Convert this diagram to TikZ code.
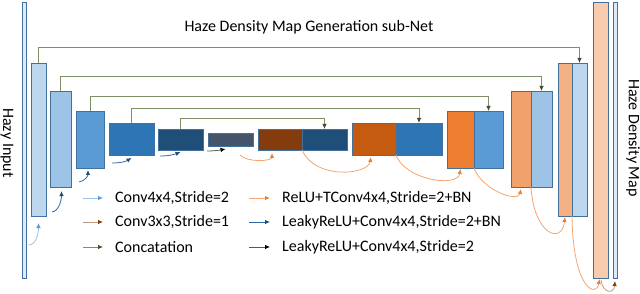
\documentclass[tikz,border=0pt]{standalone}
\usepackage{fontspec}
\setmainfont{Carlito}
\usepackage{tikz}
\usepackage{xcolor}
\usetikzlibrary{arrows.meta,calc,positioning}
\newcommand{\netfont}{\fontsize{16}{19}\selectfont}
\definecolor{NetBlueA}{HTML}{DEEBF7}
\definecolor{NetBlueB}{HTML}{BDD7EE}
\definecolor{NetBlueC}{HTML}{9DC3E6}
\definecolor{NetBlueD}{HTML}{5B9BD5}
\definecolor{NetBlueE}{HTML}{2E75B6}
\definecolor{NetBlueF}{HTML}{1F4E79}
\definecolor{NetSlate}{HTML}{44546A}
\definecolor{NetBrown}{HTML}{843C0C}
\definecolor{NetOrangeA}{HTML}{C55A11}
\definecolor{NetOrangeB}{HTML}{ED7D31}
\definecolor{NetOrangeC}{HTML}{F1A16C}
\definecolor{NetOrangeD}{HTML}{F4B183}
\definecolor{NetOrangeE}{HTML}{F8CBAD}
\definecolor{NetEdge}{HTML}{41719C}
\definecolor{NetOlive}{HTML}{7F8F68}
\definecolor{NetOliveDark}{HTML}{3F4F30}
\definecolor{NetOrangeLine}{HTML}{F4A46F}
\definecolor{NetBlueLine}{HTML}{2E6BA6}
\definecolor{NetBrownLine}{HTML}{C09A80}
\definecolor{NetGrayLine}{HTML}{595959}
\tikzset{
  netblock/.style={draw=NetEdge, line width=0.8pt, inner sep=0pt, outer sep=0pt, anchor=north west},
  nettext/.style={font=\netfont, inner sep=0pt},
  netconcat/.style={-{Latex[length=5pt,width=4.5pt,color=NetOliveDark]}, line width=0.8pt, draw=NetOlive},
  netfirst/.style={-{Latex[length=5pt,width=4.5pt,color=NetBlueD]}, line width=0.8pt, draw=NetBlueC},
  netdown/.style={-{Latex[length=5pt,width=4.5pt,color=NetBlueF]}, line width=0.8pt, draw=NetBlueLine},
  netlast/.style={-{Latex[length=5pt,width=4.5pt,color=black]}, line width=0.8pt, draw=NetGrayLine},
  netup/.style={-{Latex[length=5pt,width=4.5pt,color=NetOrangeB]}, line width=0.8pt, draw=NetOrangeLine},
  netthree/.style={-{Latex[length=5pt,width=4.5pt,color=NetBrown]}, line width=0.8pt, draw=NetBrownLine}
}
\begin{document}
\begin{tikzpicture}[x=1pt,y=-1pt]
  \useasboundingbox (0,0) rectangle (640,294);
  \node[netblock, fill=NetBlueA, minimum width=4pt, minimum height=276pt] (in) at (22,2) {};
  \node[netblock, fill=NetBlueB, minimum width=15pt, minimum height=153pt] (c1) at (31,63) {};
  \node[netblock, fill=NetBlueC, minimum width=21pt, minimum height=96pt] (c2) at (50,91) {};
  \node[netblock, fill=NetBlueD, minimum width=28pt, minimum height=57pt] (c3) at (76,111) {};
  \node[netblock, fill=NetBlueE, minimum width=45pt, minimum height=32pt] (c4) at (109,123) {};
  \node[netblock, fill=NetBlueF, minimum width=45pt, minimum height=21pt] (c5) at (158,129) {};
  \node[netblock, fill=NetSlate, minimum width=45pt, minimum height=13pt] (c6) at (208,133) {};
  \node[netblock, fill=NetBrown, minimum width=44pt, minimum height=21pt] (u7a) at (258,129) {};
  \node[netblock, fill=NetBlueF, minimum width=45pt, minimum height=21pt, right=0pt of u7a] (u7b) {};
  \node[netblock, fill=NetOrangeA, minimum width=44pt, minimum height=32pt] (u8a) at (352,123) {};
  \node[netblock, fill=NetBlueE, minimum width=46pt, minimum height=32pt, right=0pt of u8a] (u8b) {};
  \node[netblock, fill=NetOrangeB, minimum width=27pt, minimum height=57pt] (u9a) at (447,111) {};
  \node[netblock, fill=NetBlueD, minimum width=29pt, minimum height=57pt, right=0pt of u9a] (u9b) {};
  \node[netblock, fill=NetOrangeC, minimum width=20pt, minimum height=96pt] (u10a) at (511,91) {};
  \node[netblock, fill=NetBlueC, minimum width=21pt, minimum height=96pt, right=0pt of u10a] (u10b) {};
  \node[netblock, fill=NetOrangeD, minimum width=14pt, minimum height=153pt] (u11a) at (558,63) {};
  \node[netblock, fill=NetBlueB, minimum width=15pt, minimum height=153pt, right=0pt of u11a] (u11b) {};
  \node[netblock, fill=NetOrangeE, minimum width=15pt, minimum height=276pt] (u12) at (593,2) {};
  \node[netblock, fill=NetBlueA, minimum width=4pt, minimum height=276pt] (out) at (613,2) {};
  \node[nettext] (title) at (309,27) {Haze Density Map Generation sub-Net};
  \node[nettext, rotate=-90] (inlabel) at (7,143) {Hazy Input};
  \node[nettext, rotate=-90] (outlabel) at (633,138) {Haze Density Map};
  \node[nettext, anchor=west] (lg1) at (115,198) {Conv4x4,Stride=2};
  \node[nettext, anchor=west] (lg2) at (115,222) {Conv3x3,Stride=1};
  \node[nettext, anchor=west] (lg3) at (115,247) {Concatation};
  \node[nettext, anchor=west] (lg4) at (282,198) {ReLU+TConv4x4,Stride=2+BN};
  \node[nettext, anchor=west] (lg5) at (282,222) {LeakyReLU+Conv4x4,Stride=2+BN};
  \node[nettext, anchor=west] (lg6) at (282,247) {LeakyReLU+Conv4x4,Stride=2};
  \draw[netconcat] (c1.north) -- ++(0,-16) -| (u11b.north);
  \draw[netconcat] (c2.north) -- ++(0,-15) -| (u10b.north);
  \draw[netconcat] (c3.north) -- ++(0,-15) -| (u9b.north);
  \draw[netconcat] (c4.north) -- ++(0,-15) -| (u8b.north);
  \draw[netconcat] (c5.north) -- ++(0,-11) -| (u7b.north);
  \draw[netfirst] ($(c1.south)+(-10,29)$) .. controls +(8,0) and +(0,10) .. ($(c1.south)+(0,7)$);
  \draw[netdown] ($(c1.south east)+(6,-4)$) .. controls +(7,-1) and +(0,9) .. ($(c2.south)+(1,4)$);
  \draw[netdown] ($(c2.south east)+(8,-5)$) .. controls +(6,-1) and +(0,6) .. ($(c3.south)+(-2,2)$);
  \draw[netdown] ($(c3.south east)+(8,-5)$) .. controls +(10,0) and +(-5,3) .. ($(c4.south)+(0,3)$);
  \draw[netdown] ($(c4.south east)+(6,1)$) .. controls +(10,0) and +(-5,2) .. ($(c5.south)+(0,2)$);
  \draw[netlast] ($(c5.south east)+(4,1)$) .. controls +(8,0) and +(-5,1) .. ($(c6.south)+(-5,3)$);
  \draw[netup] ($(c6.south)+(9.5,9)$) .. controls +(8,8) and +(0,8) .. ($(u7a.south)+(-8,3)$);
  \draw[netup] (u7a.south east) .. controls +(13,30) and +(-3,18) .. ($(u8a.south)+(-3,2)$);
  \draw[netup] (u8a.south east) .. controls +(9,25) and +(-3,19) .. ($(u9a.south)+(0,1)$);
  \draw[netup] (u9a.south east) .. controls +(8,22) and +(-3,14) .. ($(u10a.south)+(0,2)$);
  \draw[netup] (u10a.south east) .. controls +(3,48) and +(-3,28) .. ($(u11a.south)+(0,1)$);
  \draw[netup] (u11a.south east) .. controls +(1,74) and +(-3,19) .. ($(u12.south)+(-1,1)$);
  \draw[netthree] ($(u12.south)+(0.5,2)$) .. controls +(2,14) and +(-1,13) .. ($(out.south)+(0,3)$);
  \draw[netfirst] ([xshift=-32pt]lg1.west) -- ([xshift=-12pt]lg1.west);
  \draw[netthree] ([xshift=-32pt]lg2.west) -- ([xshift=-12pt]lg2.west);
  \draw[netconcat] ([xshift=-32pt]lg3.west) -- ([xshift=-12pt]lg3.west);
  \draw[netup] ([xshift=-33pt]lg4.west) -- ([xshift=-12pt]lg4.west);
  \draw[netdown] ([xshift=-33pt]lg5.west) -- ([xshift=-12pt]lg5.west);
  \draw[netlast] ([xshift=-33pt]lg6.west) -- ([xshift=-12pt]lg6.west);
\end{tikzpicture}
\end{document}
